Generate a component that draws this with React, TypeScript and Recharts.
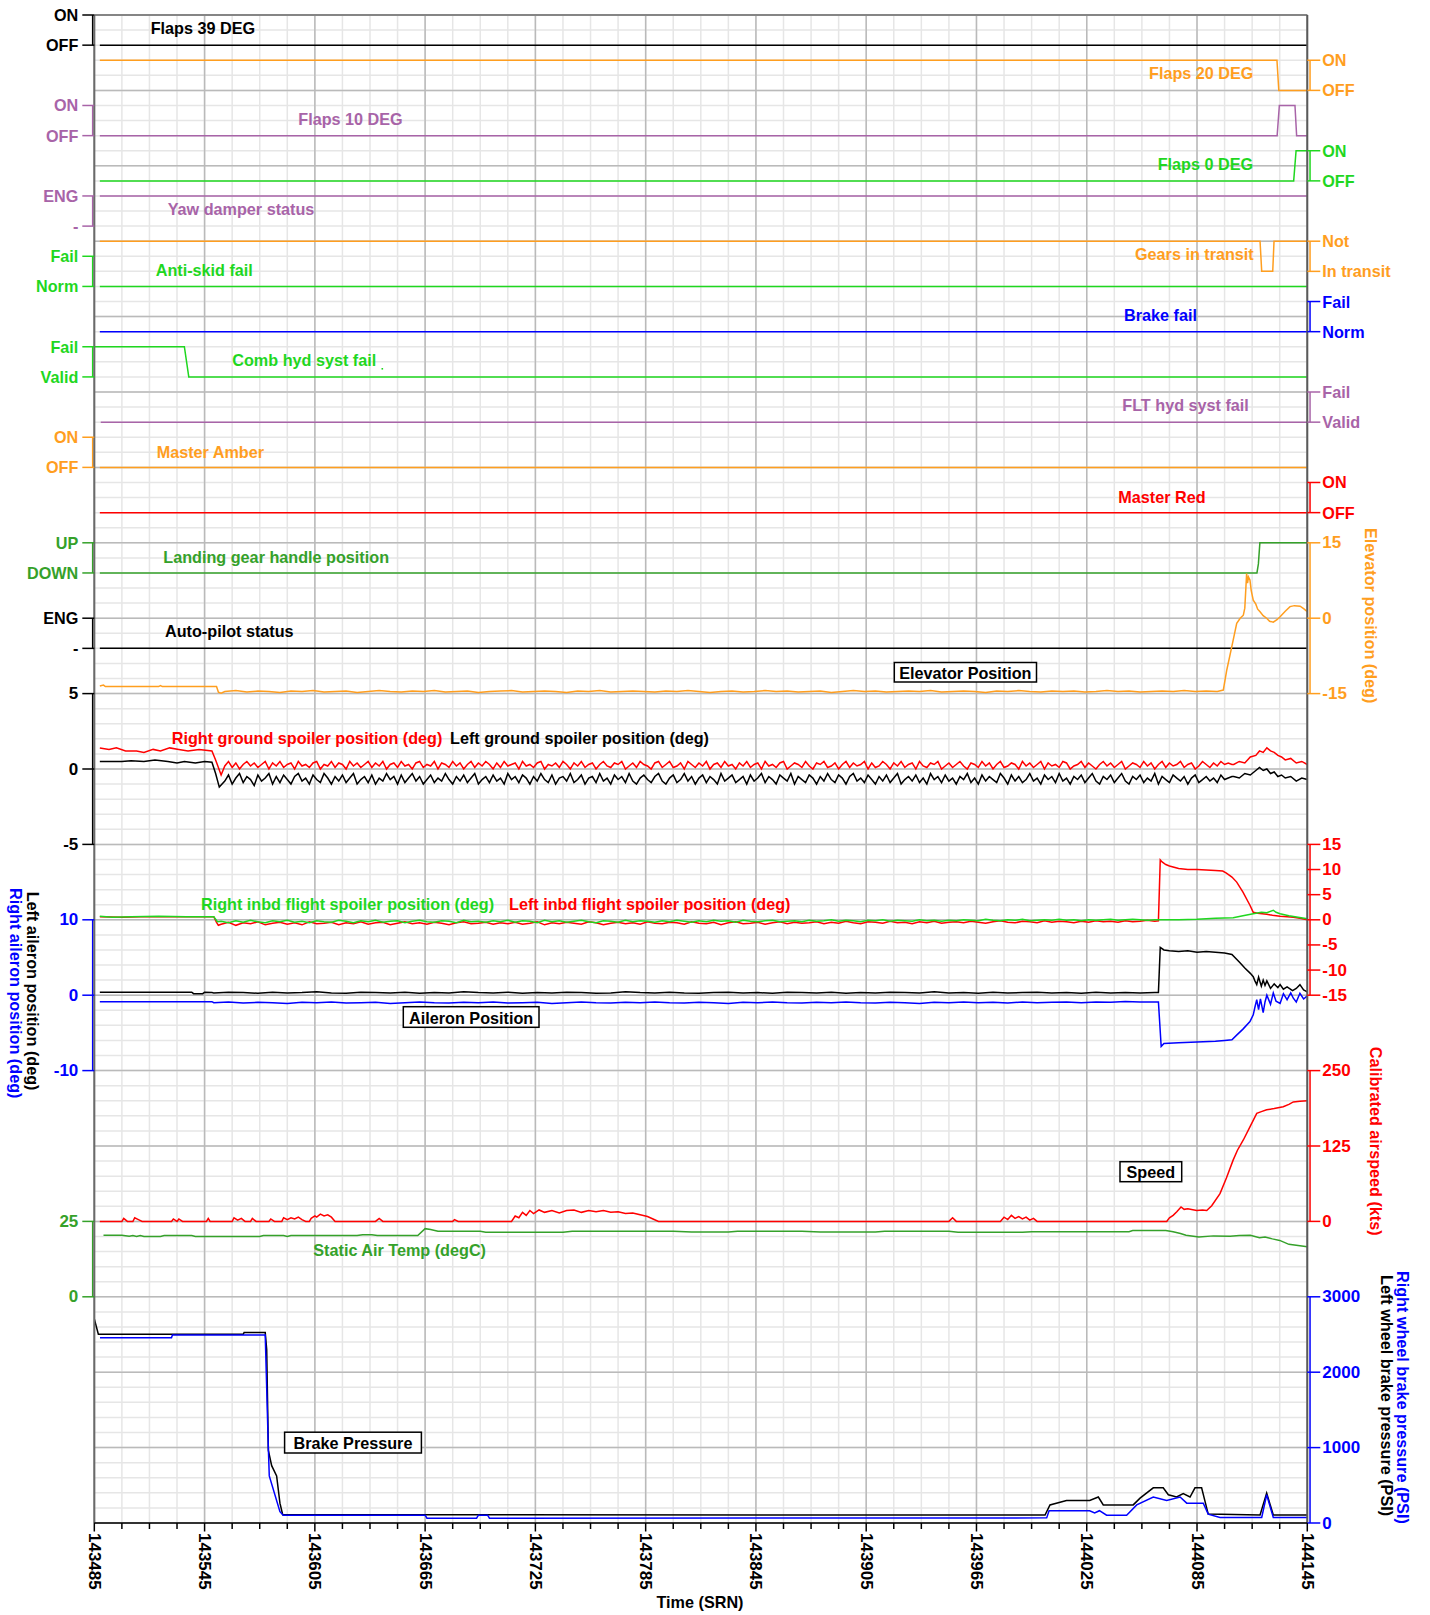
import React from "react";
import {
  CartesianGrid,
  ComposedChart,
  Line,
  ReferenceLine,
  XAxis,
  YAxis,
} from "recharts";

const W = 1430;
const H = 1615;
const PLOT_TOP = 15;
const PLOT_LEFT = 94.3;
const PLOT_RIGHT = 1307.3;
const PLOT_BOTTOM = 1523;
const X_AXIS_H = 80;
const ROWS = 100; // minor grid rows from top to bottom
const AXIS_W = 0.001; // axes overlap at the plot edges
const FONT = '"Liberation Sans", Arial, Helvetica, sans-serif';
const FS_TXT = 16.2;
const FS_NUM = 17;

const BLACK = "#000000";
const ORANGE = "#ff9e1f";
const PURPLE = "#a864a8";
const GREEN = "#1fd71f";
const DKGREEN = "#35a12a";
const BLUE = "#0000ff";
const RED = "#ff0000";

// ---- time axis (SRN)
const T0 = 143485;
const T1 = 144145;
const timeLabels = [
  143485, 143545, 143605, 143665, 143725, 143785, 143845, 143905, 143965,
  144025, 144085, 144145,
];
const timeTicks = timeLabels.flatMap((t, i) =>
  i < timeLabels.length - 1 ? [t, t + 15, t + 30, t + 45] : [t]
);
const majorTime = new Set(timeLabels);

// ---- tick labels
const onOff = ["OFF", "ON"];
const engDash = ["-", "ENG"];
const failNorm = ["Norm", "Fail"];
const failValid = ["Valid", "Fail"];
const upDown = ["DOWN", "UP"];
const notTransit = ["In transit", "Not"];
const elevTicks = [15, 0, -15];
const gndSpoilerTicks = [5, 0, -5];
const fltSpoilerTicks = [15, 10, 5, 0, -5, -10, -15];
const aileronTicks = [10, 0, -10];
const airspeedTicks = [250, 125, 0];
const satTicks = [25, 0];
const brakeTicks = [3000, 2000, 1000, 0];

// ---- discrete signals [time, state]
const flaps39 = [[143488, 0], [144145, 0]];
const flaps20 = [[143488, 1], [144128.5, 1], [144129.5, 0], [144145, 0]];
const flaps10 = [[143488, 0], [144128.6, 0], [144129.8, 1], [144138.3, 1], [144139.2, 0], [144145, 0]];
const flaps0 = [[143488, 0], [144137.6, 0], [144138.9, 1], [144145, 1]];
const yawDamper = [[143488, 1], [144145, 1]];
const gearsTransit = [[143488, 1], [144119.3, 1], [144120.2, 0], [144126.2, 0], [144126.9, 1], [144145, 1]];
const antiSkid = [[143488, 0], [144145, 0]];
const brakeFail = [[143488, 0], [144145, 0]];
const combHyd = [[143485, 1], [143534, 1], [143536.4, 0], [144145, 0]];
const fltHyd = [[143488.5, 0], [144145, 0]];
const masterAmber = [[143488, 0], [144145, 0]];
const masterRed = [[143488, 0], [144145, 0]];
const gearHandle = [[143488, 0], [144117.6, 0], [144118.4, 0.3], [144119.2, 1], [144145, 1]];
const autoPilot = [[143488, 0], [144145, 0]];

// ---- elevator (deg)
const elevHead = [[143488, -13.5], [143490, -13.3], [143491, -13.6], [143520, -13.6], [143521, -13.4], [143522, -13.6], [143551.5, -13.6], [143552.5, -14.7], [143554, -14.9]];
const elevNoise = [
  -14.6, -14.4, -14.7, -14.5, -14.6, -14.8, -14.5, -14.6, -14.4, -14.7, -14.6, -14.5, -14.8, -14.6, -14.4, -14.6, -14.7, -14.5, -14.6, -14.4,
  -14.7, -14.6, -14.5, -14.8, -14.6, -14.5, -14.4, -14.7, -14.6, -14.5, -14.6, -14.8, -14.5, -14.6, -14.4, -14.7, -14.6, -14.5, -14.6, -14.7,
  -14.5, -14.6, -14.4, -14.6, -14.8, -14.6, -14.5, -14.7, -14.6, -14.4, -14.6, -14.5, -14.7, -14.6, -14.5, -14.8, -14.6, -14.4, -14.6, -14.5,
  -14.7, -14.6, -14.5, -14.6, -14.4, -14.7, -14.6, -14.5, -14.6, -14.8, -14.5, -14.6, -14.4, -14.6, -14.7, -14.5, -14.6, -14.5, -14.7, -14.6,
  -14.4, -14.6, -14.5, -14.7, -14.6, -14.5, -14.6, -14.4, -14.6, -14.5, -14.6,
];
const elevTail = [[144099.3, -14.3], [144101.2, -10.3], [144103.9, -5.7], [144106.6, -1.0], [144108.5, 0.0], [144110.2, 0.6], [144111, 2.0], [144112, 8.9], [144112.5, 7.0], [144113, 8.2], [144113.8, 7.6], [144114.5, 5.5], [144115.6, 3.6], [144117, 2.8], [144118, 1.8], [144119.3, 1.3], [144121, 0.5], [144122.9, 0.0], [144124.5, -0.6], [144126.5, -0.8], [144128.5, -0.3], [144130.2, 0.3], [144133, 1.4], [144135.6, 2.3], [144138, 2.5], [144141.1, 2.4], [144143, 1.9], [144145, 1.3]];

// ---- ground spoilers (deg), noise sampled every 2 SRN
const gndRHead = [[143488, 1.4], [143493, 1.3], [143497, 1.4], [143502, 1.2], [143508, 1.2], [143512, 1.1], [143517, 1.3], [143521, 1.2], [143526, 1.4], [143531, 1.3], [143536, 1.2], [143542, 1.3], [143549, 1.2], [143551, 0.6], [143554, -0.4]];
const gndRNoise = [
  0.2, 0.5, 0.1, 0.4, 0.0, 0.3, 0.5, 0.2, 0.4, 0.1, 0.3, 0.5, 0.0, 0.4, 0.2, 0.5, 0.1, 0.3, 0.4, 0.0,
  0.5, 0.2, 0.3, 0.1, 0.4, 0.5, 0.0, 0.3, 0.2, 0.5, 0.1, 0.4, 0.3, 0.0, 0.5, 0.2, 0.4, 0.1, 0.3, 0.5,
  0.1, 0.4, 0.2, 0.5, 0.0, 0.3, 0.4, 0.1, 0.5, 0.2, 0.3, 0.0, 0.4, 0.5, 0.1, 0.3, 0.2, 0.5, 0.0, 0.4,
  0.3, 0.1, 0.5, 0.2, 0.4, 0.0, 0.3, 0.5, 0.1, 0.4, 0.2, 0.5, 0.3, 0.0, 0.4, 0.1, 0.5, 0.2, 0.3, 0.4,
  0.0, 0.5, 0.2, 0.3, 0.1, 0.4, 0.5, 0.0, 0.3, 0.2, 0.4, 0.1, 0.5, 0.3, 0.0, 0.4, 0.2, 0.5, 0.1, 0.3,
  0.4, 0.0, 0.3, 0.5, 0.2, 0.1, 0.4, 0.3, 0.5, 0.0, 0.2, 0.4, 0.1, 0.5, 0.3, 0.2, 0.0, 0.4, 0.5, 0.1,
  0.3, 0.5, 0.1, 0.2, 0.4, 0.0, 0.5, 0.3, 0.1, 0.4, 0.2, 0.5, 0.0, 0.3, 0.4, 0.1, 0.5, 0.2, 0.3, 0.0,
  0.4, 0.2, 0.5, 0.1, 0.3, 0.4, 0.0, 0.5, 0.2, 0.3, 0.1, 0.4, 0.5, 0.0, 0.2, 0.4, 0.3, 0.1, 0.5, 0.2,
  0.0, 0.4, 0.3, 0.5, 0.1, 0.2, 0.4, 0.0, 0.3, 0.5, 0.1, 0.4, 0.2, 0.3, 0.5, 0.0, 0.4, 0.1, 0.2, 0.5,
  0.3, 0.0, 0.4, 0.2, 0.5, 0.1, 0.3, 0.4, 0.0, 0.5, 0.2, 0.1, 0.4, 0.3, 0.5, 0.0, 0.2, 0.4, 0.1, 0.3,
  0.5, 0.2, 0.0, 0.4, 0.3, 0.1, 0.5, 0.2, 0.4, 0.0, 0.3, 0.5, 0.1, 0.2, 0.4, 0.3, 0.0, 0.5, 0.2, 0.4,
  0.1, 0.3, 0.5, 0.0, 0.4, 0.2, 0.3, 0.1, 0.5, 0.4, 0.0, 0.2, 0.3, 0.5, 0.1, 0.4, 0.2, 0.0, 0.3, 0.5,
  0.2, 0.4, 0.1, 0.3, 0.5, 0.0, 0.2, 0.4, 0.3, 0.1, 0.5, 0.2, 0.4, 0.0, 0.3, 0.5, 0.1, 0.4, 0.2, 0.3,
  0.5, 0.1, 0.3, 0.4, 0.0, 0.2, 0.5, 0.3, 0.1, 0.4, 0.2, 0.5, 0.3, 0.4, 0.3,
];
const gndRTail = [[144105, 0.3], [144108, 0.5], [144111, 0.4], [144114, 0.8], [144117, 0.9], [144119, 1.2], [144121, 1.1], [144123, 1.4], [144125, 1.2], [144127, 1.1], [144129, 0.9], [144131, 0.8], [144133, 0.6], [144136, 0.7], [144139, 0.4], [144142, 0.5], [144145, 0.3]];
const gndLHead = [[143488, 0.5], [143500, 0.5], [143505, 0.55], [143512, 0.5], [143518, 0.6], [143525, 0.5], [143530, 0.4], [143534, 0.5], [143540, 0.4], [143545, 0.5], [143549, 0.45], [143551, -0.3], [143553, -1.2]];
const gndLNoise = [
  -0.8, -0.4, -1.0, -0.6, -0.3, -0.9, -0.5, -0.7, -1.1, -0.4, -0.8, -0.6, -0.3, -1.0, -0.5, -0.9, -0.4, -0.7, -1.0, -0.5,
  -0.3, -0.8, -0.6, -1.0, -0.4, -0.7, -0.9, -0.3, -0.6, -1.0, -0.5, -0.8, -0.4, -0.9, -0.6, -0.3, -1.0, -0.7, -0.5, -0.9,
  -0.4, -1.0, -0.6, -0.8, -0.3, -0.7, -0.5, -1.0, -0.4, -0.9, -0.6, -0.3, -0.8, -0.5, -1.0, -0.7, -0.4, -0.9, -0.6, -0.8,
  -0.3, -0.7, -1.0, -0.5, -0.8, -0.4, -0.9, -0.6, -0.3, -1.0, -0.7, -0.5, -0.9, -0.4, -0.8, -0.6, -1.0, -0.3, -0.7, -0.5,
  -0.9, -0.4, -0.6, -1.0, -0.5, -0.8, -0.3, -0.7, -0.9, -0.4, -1.0, -0.6, -0.5, -0.8, -0.3, -0.9, -0.7, -0.4, -1.0, -0.6,
  -0.5, -0.9, -0.3, -0.8, -0.6, -1.0, -0.4, -0.7, -0.5, -0.9, -0.3, -0.8, -1.0, -0.6, -0.4, -0.7, -0.9, -0.5, -0.3, -0.8,
  -1.0, -0.6, -0.4, -0.9, -0.7, -0.3, -0.8, -0.5, -1.0, -0.6, -0.4, -0.9, -0.5, -0.7, -1.0, -0.3, -0.8, -0.6, -0.4, -0.9,
  -0.7, -0.5, -1.0, -0.4, -0.8, -0.6, -0.3, -0.9, -0.5, -0.7, -1.0, -0.4, -0.6, -0.8, -0.3, -1.0, -0.5, -0.7, -0.9, -0.4,
  -0.6, -1.0, -0.5, -0.8, -0.3, -0.7, -0.9, -0.4, -0.6, -1.0, -0.5, -0.3, -0.8, -0.6, -0.9, -0.4, -0.7, -1.0, -0.5, -0.8,
  -0.4, -0.9, -0.6, -0.3, -1.0, -0.7, -0.5, -0.8, -0.4, -0.9, -0.6, -1.0, -0.3, -0.7, -0.5, -0.9, -0.4, -0.8, -0.6, -1.0,
  -0.5, -0.7, -0.3, -0.9, -0.6, -1.0, -0.4, -0.8, -0.5, -0.7, -0.9, -0.3, -0.6, -1.0, -0.4, -0.8, -0.5, -0.9, -0.7, -0.3,
  -0.8, -0.6, -1.0, -0.4, -0.7, -0.5, -0.9, -0.3, -0.8, -0.6, -1.0, -0.5, -0.7, -0.4, -0.9, -0.6, -0.3, -0.8, -1.0, -0.5,
  -0.7, -0.4, -0.9, -0.6, -0.3, -0.8, -1.0, -0.5, -0.7, -0.4, -0.9, -0.6, -0.8, -0.3, -1.0, -0.5, -0.7, -0.9, -0.4, -0.6,
  -0.8, -0.5, -1.0, -0.6, -0.4, -0.9, -0.7, -0.5, -0.8, -0.6, -0.9, -0.4, -0.7, -0.6, -0.5,
];
const gndLTail = [[144105, -0.5], [144108, -0.6], [144111, -0.3], [144114, -0.4], [144117, -0.1], [144119, 0.1], [144121, -0.1], [144123, 0.0], [144125, -0.3], [144127, -0.2], [144129, -0.5], [144131, -0.4], [144133, -0.6], [144136, -0.5], [144139, -0.8], [144142, -0.6], [144145, -0.7]];

// ---- inboard flight spoilers (deg)
const fsLHead = [[143488, 0.6], [143500, 0.5], [143510, 0.6], [143530, 0.6], [143550, 0.6], [143551.5, -0.5], [143552.5, -1.1]];
const fsLNoise = [
  -0.9, -0.5, -1.1, -0.6, -0.8, -0.4, -1.0, -0.7, -0.5, -0.9, -0.6, -1.0, -0.4, -0.8, -0.7, -0.5, -1.0, -0.6, -0.8, -0.4,
  -0.9, -0.6, -0.5, -1.0, -0.7, -0.4, -0.8, -0.6, -0.9, -0.5, -0.7, -1.0, -0.6, -0.4, -0.8, -0.7, -0.5, -0.9, -0.6, -0.8,
  -0.5, -0.9, -0.7, -0.4, -1.0, -0.6, -0.8, -0.5, -0.7, -0.9, -0.4, -0.6, -1.0, -0.7, -0.5, -0.8, -0.6, -0.9, -0.4, -0.7,
  -0.8, -0.5, -0.6, -0.9, -0.4, -0.7, -0.8, -0.5, -1.0, -0.6, -0.4, -0.8, -0.7, -0.5, -0.9, -0.6, -0.4, -0.8, -0.5, -0.7,
  -0.6, -0.4, -0.8, -0.5, -0.7, -0.3, -0.6, -0.8, -0.4, -0.5, -0.7, -0.3, -0.6, -0.5, -0.8, -0.4, -0.6, -0.3, -0.7, -0.5,
  -0.4, -0.6, -0.3, -0.5, -0.7, -0.4, -0.2, -0.5, -0.6, -0.3, -0.4, -0.6, -0.2, -0.5, -0.3, -0.4, -0.6, -0.3, -0.5, -0.2,
  -0.4, -0.3, -0.5, -0.2, -0.4, -0.3, -0.1, -0.3,
];
const fsLTail = [[144064, -0.2], [144065, 11.9], [144066, 11.5], [144068, 11.0], [144070, 10.7], [144075, 10.2], [144080, 10.0], [144085, 10.0], [144090, 9.9], [144095, 9.8], [144099, 9.7], [144101, 9.3], [144104, 8.5], [144106.6, 7.5], [144110, 5.5], [144113.8, 2.9], [144115.6, 1.5], [144118, 1.3], [144122.9, 1.1], [144126, 0.9], [144130.2, 0.7], [144134, 0.6], [144137.4, 0.5], [144141, 0.3], [144145, 0]];
const fsRHead = [[143488, 0.7], [143495, 0.5], [143505, 0.6], [143520, 0.7], [143535, 0.6], [143550, 0.6], [143552, -0.4]];
const fsRNoise = [
  -0.3, -0.6, -0.2, -0.5, -0.1, -0.4, -0.6, -0.2, -0.4, -0.1, -0.5, -0.3, -0.6, -0.2, -0.4, -0.5, -0.1, -0.3, -0.6, -0.2,
  -0.4, -0.1, -0.5, -0.3, -0.2, -0.6, -0.3, -0.1, -0.4, -0.5, -0.2, -0.3, -0.6, -0.1, -0.4, -0.3, -0.5, -0.2, -0.4, -0.1,
  -0.5, -0.2, -0.3, -0.6, -0.1, -0.4, -0.2, -0.5, -0.3, -0.1, -0.4, -0.6, -0.2, -0.3, -0.5, -0.1, -0.4, -0.2, -0.3, -0.5,
  -0.2, -0.4, -0.1, -0.3, -0.5, -0.2, -0.4, -0.1, -0.3, -0.2, -0.5, -0.1, -0.3, -0.4, -0.2, -0.1, -0.4, -0.3, -0.2, -0.4,
  -0.1, -0.3, -0.2, 0.0, -0.3, -0.1, -0.2, -0.4, -0.1, -0.2, 0.0, -0.3, -0.1, -0.2, -0.3, 0.0, -0.2, -0.1, -0.3, -0.1,
  -0.2, 0.0, -0.1, -0.2, 0.1, -0.1, -0.2, 0.0, -0.1, 0.1, -0.2, -0.1, 0.0, -0.1, 0.1, -0.1, 0.0, -0.2, 0.0, -0.1,
  0.0, 0.1, -0.1, 0.0, 0.1, 0.0, -0.1, 0.0,
];
const fsRTail = [[144064, 0.0], [144075, 0.0], [144085, 0.1], [144095, 0.3], [144104.7, 0.4], [144110, 0.8], [144115.6, 1.2], [144120, 1.5], [144123, 1.4], [144126.5, 1.9], [144128, 1.5], [144130.2, 1.2], [144135, 0.8], [144140, 0.5], [144145, 0.2]];

// ---- ailerons (deg)
const ailLHead = [[143488, 0.4], [143538, 0.4], [143539, 0.2], [143544, 0.2], [143545, 0.4], [143549, 0.35]];
const ailLNoise = [
  0.3, 0.4, 0.35, 0.25, 0.4, 0.3, 0.35, 0.45, 0.3, 0.25, 0.4, 0.35, 0.3, 0.4, 0.25, 0.35, 0.3, 0.45, 0.35, 0.3,
  0.4, 0.25, 0.35, 0.3, 0.4, 0.35, 0.25, 0.3, 0.45, 0.35, 0.3, 0.4, 0.3, 0.25, 0.35, 0.4, 0.3, 0.35, 0.25, 0.4,
  0.35, 0.3, 0.4, 0.25, 0.35, 0.3, 0.4, 0.35, 0.3, 0.45, 0.3, 0.35, 0.25, 0.4, 0.3, 0.35, 0.4, 0.3, 0.35, 0.25,
  0.4, 0.3, 0.35, 0.3, 0.35,
];
const ailLTail = [[144064, 0.35], [144065, 6.35], [144067, 6.0], [144070, 5.9], [144075, 5.8], [144080, 5.9], [144085, 5.7], [144090, 5.8], [144095, 5.7], [144100, 5.6], [144104, 5.4], [144108, 4.4], [144111, 3.6], [144114, 2.9], [144115.6, 2.45], [144116.5, 1.9], [144117.5, 1.4], [144118.5, 2.4], [144120, 1.2], [144121, 2.0], [144122, 1.3], [144123, 1.9], [144125, 0.9], [144127, 1.5], [144129, 1.0], [144130.2, 1.4], [144132, 0.8], [144134, 1.1], [144137, 0.6], [144139, 0.9], [144141, 1.4], [144143, 0.7], [144145, 0.45]];
const ailRHead = [[143488, -0.86], [143549, -0.86]];
const ailRNoise = [
  -1.0, -0.9, -1.05, -0.95, -1.0, -1.1, -0.95, -1.0, -0.9, -1.05, -1.0, -0.95, -1.1, -1.0, -0.9, -1.0, -1.05, -0.95, -1.0, -0.9,
  -1.05, -1.0, -0.95, -1.1, -1.0, -0.9, -1.0, -1.05, -0.95, -1.0, -0.9, -1.0, -1.05, -0.95, -1.0, -1.1, -0.95, -1.0, -0.9, -1.0,
  -1.05, -0.95, -1.0, -0.9, -1.0, -1.05, -0.95, -1.0, -1.1, -0.95, -1.0, -0.9, -1.0, -0.95, -1.05, -0.9, -1.0, -0.95, -0.9, -1.0,
  -0.9, -0.95, -0.85, -0.9, -0.9,
];
const ailRTail = [[144064, -0.9], [144065.5, -6.8], [144067, -6.4], [144075, -6.3], [144085, -6.2], [144095, -6.1], [144100, -6.0], [144104, -5.9], [144107, -5.2], [144110, -4.5], [144113.8, -3.5], [144115.6, -2.6], [144116.5, -1.6], [144117.5, -0.6], [144118.5, -1.9], [144119.5, -0.5], [144121, -2.3], [144122, -0.9], [144123, 0.0], [144125, -1.2], [144126.5, 0.3], [144128, -0.8], [144130.2, -1.1], [144132, 0.2], [144134, -0.6], [144136, 0.3], [144137.4, -0.4], [144139, -0.9], [144141, 0.25], [144143, -0.5], [144145, -0.1]];

// ---- calibrated airspeed (kts)
const airspeed = [[143488, 0], [143500, 0], [143501, 5], [143503, 0], [143506, 0], [143507, 6], [143509, 3], [143511, 0], [143527, 0], [143528, 4], [143530, 0], [143531, 4], [143533, 0], [143546, 0], [143547, 5], [143548, 0], [143560, 0], [143561, 6], [143563, 2], [143565, 5], [143567, 0], [143570, 0], [143571, 5], [143573, 0], [143580, 0], [143581, 4], [143583, 0], [143587, 0], [143588, 6], [143590, 3], [143592, 6], [143594, 4], [143596, 7], [143598, 3], [143600, 0], [143602, 0], [143603, 5], [143605, 9], [143606, 7], [143608, 12], [143610, 9], [143612, 11], [143614, 7], [143616, 0], [143638, 0], [143640, 5], [143642, 0], [143680, 0], [143681, 3], [143683, 0], [143712, 0], [143714, 9], [143716, 6], [143718, 15], [143720, 10], [143722, 18], [143724, 13], [143727, 19], [143730, 15], [143734, 18], [143738, 14], [143742, 18], [143746, 19], [143750, 15], [143754, 18], [143758, 16], [143762, 18], [143766, 15], [143770, 16], [143774, 13], [143778, 14], [143782, 11], [143786, 8], [143789, 4], [143792, 0], [143950, 0], [143952, 6], [143954, 0], [143978, 0], [143980, 7], [143982, 3], [143984, 10], [143986, 5], [143988, 8], [143990, 4], [143992, 7], [143994, 2], [143996, 5], [143998, 0], [144068.5, 0], [144070, 6], [144072, 10], [144074, 16], [144076.3, 24], [144078, 20], [144080, 21], [144084.8, 18], [144088, 19], [144090.3, 18], [144093, 26], [144097.5, 46], [144101, 72], [144104.7, 102], [144107, 118], [144110.2, 135], [144114, 158], [144117.5, 179], [144120, 182], [144122.9, 185], [144127, 187], [144131.9, 190], [144135, 194], [144137.4, 198], [144141, 199], [144145, 200]];

// ---- static air temp (degC)
const staticAirTemp = [[143490, 20.4], [143500, 20.4], [143504, 20.1], [143506, 20.3], [143508, 20.0], [143510, 20.3], [143512, 20.0], [143521, 20.0], [143523, 20.3], [143538, 20.3], [143540, 20.0], [143575, 20.0], [143577, 20.3], [143588, 20.3], [143590, 20.0], [143592, 20.3], [143628, 20.3], [143631, 20.6], [143636, 20.6], [143639, 20.3], [143661, 20.3], [143665, 22.6], [143668, 22.3], [143672, 21.7], [143695, 21.7], [143698, 21.4], [143740, 21.4], [143745, 21.7], [143800, 21.7], [143810, 21.5], [143830, 21.5], [143835, 21.7], [143870, 21.7], [143880, 21.5], [143910, 21.5], [143915, 21.7], [143950, 21.7], [143955, 21.4], [143990, 21.4], [143995, 21.6], [144048, 21.6], [144050, 22.0], [144068, 22.0], [144072, 21.6], [144076, 21.0], [144079, 20.4], [144086, 19.8], [144094, 20.2], [144103, 20.1], [144108, 20.3], [144114, 20.4], [144119, 19.6], [144122, 19.8], [144126, 19.2], [144130, 18.7], [144135, 17.4], [144140, 17.0], [144145, 16.6]];

// ---- wheel brake pressure (PSI)
const brakeLeft = [[143485, 2707], [143487.2, 2503], [143566, 2503], [143566.5, 2525], [143578, 2525], [143578.8, 2300], [143579.7, 964], [143581.5, 760], [143584.2, 625], [143586, 263], [143587.5, 110], [144002.3, 105], [144005, 240], [144014, 299], [144026.6, 299], [144031.3, 345], [144034, 240], [144050.3, 240], [144054, 330], [144061.2, 467], [144066.6, 467], [144069.4, 375], [144073.9, 345], [144077.5, 390], [144081.2, 345], [144083.9, 467], [144087.5, 467], [144091.1, 118], [144119.3, 105], [144122.9, 398], [144126.5, 105], [144145, 105]];
const brakeRight = [[143488.1, 2458], [143527, 2458], [143527.5, 2494], [143578, 2494], [143579.7, 987], [143580.2, 625], [143586, 150], [143587.8, 103], [143665, 103], [143666, 63], [143693, 63], [143694, 103], [143699, 103], [143700, 63], [144003.2, 68], [144004.5, 163], [144026.6, 163], [144029.3, 135], [144031.9, 163], [144035.8, 103], [144046.7, 103], [144052.2, 240], [144061.2, 345], [144068.5, 299], [144075.8, 345], [144079.4, 263], [144088.4, 263], [144091.1, 118], [144097.5, 73], [144120.2, 73], [144122.9, 375], [144126.5, 73], [144145, 73]];

type Pair = number[];
const pts = (rows: Pair[]) => rows.map(([t, v]) => ({ t, v }));
const run = (start: number, step: number, vals: number[]) =>
  vals.map((v, i) => ({ t: start + i * step, v }));
const range = (lo: number, hi: number, step: number) => {
  const out: number[] = [];
  for (let v = lo; v <= hi + 1e-9; v += step) out.push(v);
  return out;
};

type AxisSpec = {
  id: string;
  side: "left" | "right";
  color: string;
  top: [number, number]; // [value, grid row]
  bottom: [number, number];
  ticks: number[];
  labels?: string[];
  minor?: number[];
};

const dig = (id: string, side: "left" | "right", color: string, row: number, labels: string[]): AxisSpec => ({
  id, side, color, top: [1, row], bottom: [0, row + 2], ticks: [0, 1], labels,
});

const axisSpecs: AxisSpec[] = [
  dig("flaps39", "left", BLACK, 0, onOff),
  dig("flaps20", "right", ORANGE, 3, onOff),
  dig("flaps10", "left", PURPLE, 6, onOff),
  dig("flaps0", "right", GREEN, 9, onOff),
  dig("yaw", "left", PURPLE, 12, engDash),
  dig("gears", "right", ORANGE, 15, notTransit),
  dig("antiskid", "left", GREEN, 16, failNorm),
  dig("brakefail", "right", BLUE, 19, failNorm),
  dig("combhyd", "left", GREEN, 22, failValid),
  dig("flthyd", "right", PURPLE, 25, failValid),
  dig("amber", "left", ORANGE, 28, onOff),
  dig("red", "right", RED, 31, onOff),
  dig("gearhandle", "left", DKGREEN, 35, upDown),
  dig("autopilot", "left", BLACK, 40, engDash),
  { id: "elev", side: "right", color: ORANGE, top: [15, 35], bottom: [-15, 45], ticks: elevTicks, minor: range(-15, 15, 3) },
  { id: "gnd", side: "left", color: BLACK, top: [5, 45], bottom: [-5, 55], ticks: gndSpoilerTicks, minor: range(-5, 5, 1) },
  { id: "flt", side: "right", color: RED, top: [15, 55], bottom: [-15, 65], ticks: fltSpoilerTicks, minor: range(-15, 15, 1) },
  { id: "ail", side: "left", color: BLUE, top: [10, 60], bottom: [-10, 70], ticks: aileronTicks, minor: range(-10, 10, 2) },
  { id: "cas", side: "right", color: RED, top: [250, 70], bottom: [0, 80], ticks: airspeedTicks, minor: range(0, 250, 25) },
  { id: "sat", side: "left", color: DKGREEN, top: [25, 80], bottom: [0, 85], ticks: satTicks, minor: range(0, 25, 5) },
  { id: "brake", side: "right", color: BLUE, top: [3000, 85], bottom: [0, 100], ticks: brakeTicks, minor: range(0, 3000, 200) },
];

const domainOf = (a: AxisSpec): [number, number] => {
  const [vHi, gHi] = a.top;
  const [vLo, gLo] = a.bottom;
  const k = (gLo - gHi) / (vHi - vLo);
  return [vLo - (ROWS - gLo) / k, vHi + gHi / k];
};

const series = [
  { data: pts(flaps39), axis: "flaps39", color: BLACK },
  { data: pts(flaps20), axis: "flaps20", color: ORANGE },
  { data: pts(flaps10), axis: "flaps10", color: PURPLE },
  { data: pts(flaps0), axis: "flaps0", color: GREEN },
  { data: pts(yawDamper), axis: "yaw", color: PURPLE },
  { data: pts(gearsTransit), axis: "gears", color: ORANGE },
  { data: pts(antiSkid), axis: "antiskid", color: GREEN },
  { data: pts(brakeFail), axis: "brakefail", color: BLUE },
  { data: pts(combHyd), axis: "combhyd", color: GREEN },
  { data: pts(fltHyd), axis: "flthyd", color: PURPLE },
  { data: pts(masterAmber), axis: "amber", color: ORANGE },
  { data: pts(masterRed), axis: "red", color: RED },
  { data: pts(gearHandle), axis: "gearhandle", color: DKGREEN },
  { data: pts(autoPilot), axis: "autopilot", color: BLACK },
  { data: [...pts(elevHead), ...run(143556, 6, elevNoise), ...pts(elevTail)], axis: "elev", color: ORANGE },
  { data: [...pts(gndLHead), ...run(143556, 2, gndLNoise), ...pts(gndLTail)], axis: "gnd", color: BLACK },
  { data: [...pts(gndRHead), ...run(143556, 2, gndRNoise), ...pts(gndRTail)], axis: "gnd", color: RED },
  { data: [...pts(fsLHead), ...run(143554, 4, fsLNoise), ...pts(fsLTail)], axis: "flt", color: RED },
  { data: [...pts(fsRHead), ...run(143554, 4, fsRNoise), ...pts(fsRTail)], axis: "flt", color: GREEN },
  { data: [...pts(ailLHead), ...run(143550, 8, ailLNoise), ...pts(ailLTail)], axis: "ail", color: BLACK },
  { data: [...pts(ailRHead), ...run(143550, 8, ailRNoise), ...pts(ailRTail)], axis: "ail", color: BLUE },
  { data: pts(airspeed), axis: "cas", color: RED },
  { data: pts(staticAirTemp), axis: "sat", color: DKGREEN },
  { data: pts(brakeLeft), axis: "brake", color: BLACK },
  { data: pts(brakeRight), axis: "brake", color: BLUE },
];

const gridRows = range(0, ROWS, 1);
const gridMajorRows = range(0, ROWS, 5);
const BRACKET_L = T0 - 0.9;
const BRACKET_R = T1 + 1.5;

const TimeTick = (props: any) => {
  const { x, y, payload } = props;
  const major = majorTime.has(payload.value);
  return (
    <g>
      <line x1={x} x2={x} y1={y} y2={y + (major ? 8.5 : 6)} stroke={BLACK} strokeWidth={1.5} />
      {major && (
        <text
          transform={`translate(${x},${y + 10}) rotate(90)`}
          dominantBaseline="central"
          fontSize={FS_NUM}
          fontWeight={700}
          fontFamily={FONT}
          fill={BLACK}
        >
          {payload.value}
        </text>
      )}
    </g>
  );
};

const makeYTick = (a: AxisSpec) => (props: any) => {
  const { x, y, payload } = props;
  const label = a.labels ? a.labels[payload.value] : String(payload.value);
  return (
    <text
      x={x}
      y={y}
      textAnchor={a.side === "left" ? "end" : "start"}
      dominantBaseline="central"
      fill={a.color}
      fontSize={a.labels ? FS_TXT : FS_NUM}
      fontWeight={700}
      fontFamily={FONT}
    >
      {label}
    </text>
  );
};

const notes = [
  { text: "Flaps 39 DEG", x: 150.7, y: 28.3, color: BLACK },
  { text: "Flaps 20 DEG", x: 1149, y: 72.7, color: ORANGE },
  { text: "Flaps 10 DEG", x: 298.3, y: 119.3, color: PURPLE },
  { text: "Flaps 0 DEG", x: 1157.7, y: 164, color: GREEN },
  { text: "Yaw damper status", x: 167.7, y: 209.3, color: PURPLE },
  { text: "Gears in transit", x: 1135, y: 254, color: ORANGE },
  { text: "Anti-skid fail", x: 155.7, y: 270, color: GREEN },
  { text: "Brake fail", x: 1124, y: 315, color: BLUE },
  { text: "Comb hyd syst fail", x: 232.3, y: 360, color: GREEN },
  { text: "FLT hyd syst fail", x: 1122.3, y: 405, color: PURPLE },
  { text: "Master Amber", x: 156.7, y: 451.7, color: ORANGE },
  { text: "Master Red", x: 1118.3, y: 496.7, color: RED },
  { text: "Landing gear handle position", x: 163.3, y: 556.7, color: DKGREEN },
  { text: "Auto-pilot status", x: 165, y: 631, color: BLACK },
  { text: "Right ground spoiler position (deg)", x: 171.7, y: 738.3, color: RED },
  { text: "Left ground spoiler position (deg)", x: 450, y: 738.3, color: BLACK },
  { text: "Right inbd flight spoiler position (deg)", x: 201, y: 904.3, color: GREEN },
  { text: "Left inbd flight spoiler position (deg)", x: 509, y: 904.3, color: RED },
  { text: "Static Air Temp (degC)", x: 313.3, y: 1249.6, color: DKGREEN },
];

const boxes = [
  { text: "Elevator Position", x: 894.3, y: 662.5, w: 142.2, h: 19.5 },
  { text: "Aileron Position", x: 403.3, y: 1006.7, w: 135.7, h: 20.6 },
  { text: "Speed", x: 1120, y: 1161.7, w: 61.7, h: 20 },
  { text: "Brake Pressure", x: 284.6, y: 1432.2, w: 136.8, h: 20.8 },
];

const titles = [
  { text: "Left aileron position (deg)", x: 33.3, y: 891.7, color: BLACK },
  { text: "Right aileron position (deg)", x: 15.8, y: 888, color: BLUE },
  { text: "Elevator position (deg)", x: 1371, y: 528, color: ORANGE },
  { text: "Calibrated airspeed (kts)", x: 1375.5, y: 1046.7, color: RED },
  { text: "Right wheel brake pressure (PSI)", x: 1403, y: 1271, color: BLUE },
  { text: "Left wheel brake pressure (PSI)", x: 1386.7, y: 1275, color: BLACK },
];

export default function App() {
  return (
    <div
      style={{
        position: "absolute",
        left: 0,
        top: 0,
        width: W,
        height: H,
        background: "#ffffff",
        fontFamily: FONT,
        fontWeight: 700,
      }}
    >
      <ComposedChart
        width={W}
        height={H}
        margin={{
          top: PLOT_TOP,
          right: W - PLOT_RIGHT,
          bottom: H - PLOT_BOTTOM - X_AXIS_H,
          left: PLOT_LEFT,
        }}
      >
        <XAxis
          type="number"
          dataKey="t"
          domain={[T0, T1]}
          allowDataOverflow
          ticks={timeTicks}
          interval={0}
          height={X_AXIS_H}
          tickSize={0}
          tickMargin={0}
          tickLine={false}
          axisLine={{ stroke: BLACK, strokeWidth: 1.5 }}
          tick={<TimeTick />}
        />
        <XAxis xAxisId="major" hide type="number" dataKey="t" domain={[T0, T1]} allowDataOverflow ticks={timeLabels} interval={0} height={AXIS_W} />

        {axisSpecs.map((a) => {
          const left = a.side === "left";
          const dom = domainOf(a);
          const bx = left ? BRACKET_L : BRACKET_R;
          return (
            <React.Fragment key={a.id}>
              <YAxis
                yAxisId={a.id}
                orientation={a.side}
                type="number"
                domain={dom}
                allowDataOverflow
                width={AXIS_W}
                ticks={a.ticks}
                interval={0}
                axisLine={false}
                tickSize={left ? 12 : 13}
                tickMargin={left ? 4 : 2}
                tickLine={{ stroke: a.color, strokeWidth: 1.5 }}
                tick={makeYTick(a)}
              />
              {a.minor && (
                <YAxis
                  yAxisId={a.id + "-minor"}
                  orientation={a.side}
                  type="number"
                  domain={dom}
                  allowDataOverflow
                  width={AXIS_W}
                  ticks={a.minor}
                  interval={0}
                  axisLine={false}
                  tick={false}
                  tickSize={left ? 7 : 8.5}
                  tickLine={{ stroke: a.color, strokeWidth: 1.5 }}
                />
              )}
              <ReferenceLine
                yAxisId={a.id}
                ifOverflow="visible"
                segment={[
                  { x: bx, y: a.top[0] },
                  { x: bx, y: a.bottom[0] },
                ]}
                stroke={a.color}
                strokeWidth={1.5}
              />
            </React.Fragment>
          );
        })}

        {/* grid axes go on the right, after the visible ones */}
        <YAxis yAxisId={0} hide orientation="right" width={AXIS_W} type="number" domain={[0, ROWS]} reversed allowDataOverflow ticks={gridRows} interval={0} />
        <YAxis yAxisId="gridMajor" hide orientation="right" width={AXIS_W} type="number" domain={[0, ROWS]} reversed allowDataOverflow ticks={gridMajorRows} interval={0} />
        <CartesianGrid stroke="#e6e6e6" strokeWidth={1.5} />
        <CartesianGrid xAxisId="major" yAxisId="gridMajor" stroke="#bababa" strokeWidth={1.5} />

        {series.map((s, i) => (
          <Line
            key={i}
            yAxisId={s.axis}
            data={s.data}
            dataKey="v"
            type="linear"
            stroke={s.color}
            strokeWidth={1.5}
            dot={false}
            activeDot={false}
            isAnimationActive={false}
          />
        ))}

        <ReferenceLine y={0} stroke="#858585" strokeWidth={2} />
        <ReferenceLine x={T0} stroke="#6a6a6a" strokeWidth={2} />
        <ReferenceLine x={T1} stroke="#5a5a5a" strokeWidth={2} />
      </ComposedChart>

      <svg
        width={W}
        height={H}
        style={{ position: "absolute", left: 0, top: 0, pointerEvents: "none" }}
        fontFamily={FONT}
        fontWeight={700}
      >
        {notes.map((n) => (
          <text key={n.text} x={n.x} y={n.y} fill={n.color} fontSize={FS_TXT} dominantBaseline="central">
            {n.text}
          </text>
        ))}
        <rect x={381.5} y={368} width={1.6} height={1.6} fill={GREEN} />
        {boxes.map((b) => (
          <g key={b.text}>
            <rect x={b.x} y={b.y} width={b.w} height={b.h} fill="#ffffff" stroke={BLACK} strokeWidth={1.5} />
            <text x={b.x + b.w / 2} y={b.y + b.h / 2 + 0.5} fill={BLACK} fontSize={FS_TXT} textAnchor="middle" dominantBaseline="central">
              {b.text}
            </text>
          </g>
        ))}
        {titles.map((t) => (
          <text
            key={t.text}
            transform={`translate(${t.x},${t.y}) rotate(90)`}
            fill={t.color}
            fontSize={FS_TXT}
            dominantBaseline="central"
          >
            {t.text}
          </text>
        ))}
        <text x={700} y={1602} fill={BLACK} fontSize={FS_TXT} textAnchor="middle" dominantBaseline="central">
          Time (SRN)
        </text>
      </svg>
    </div>
  );
}
